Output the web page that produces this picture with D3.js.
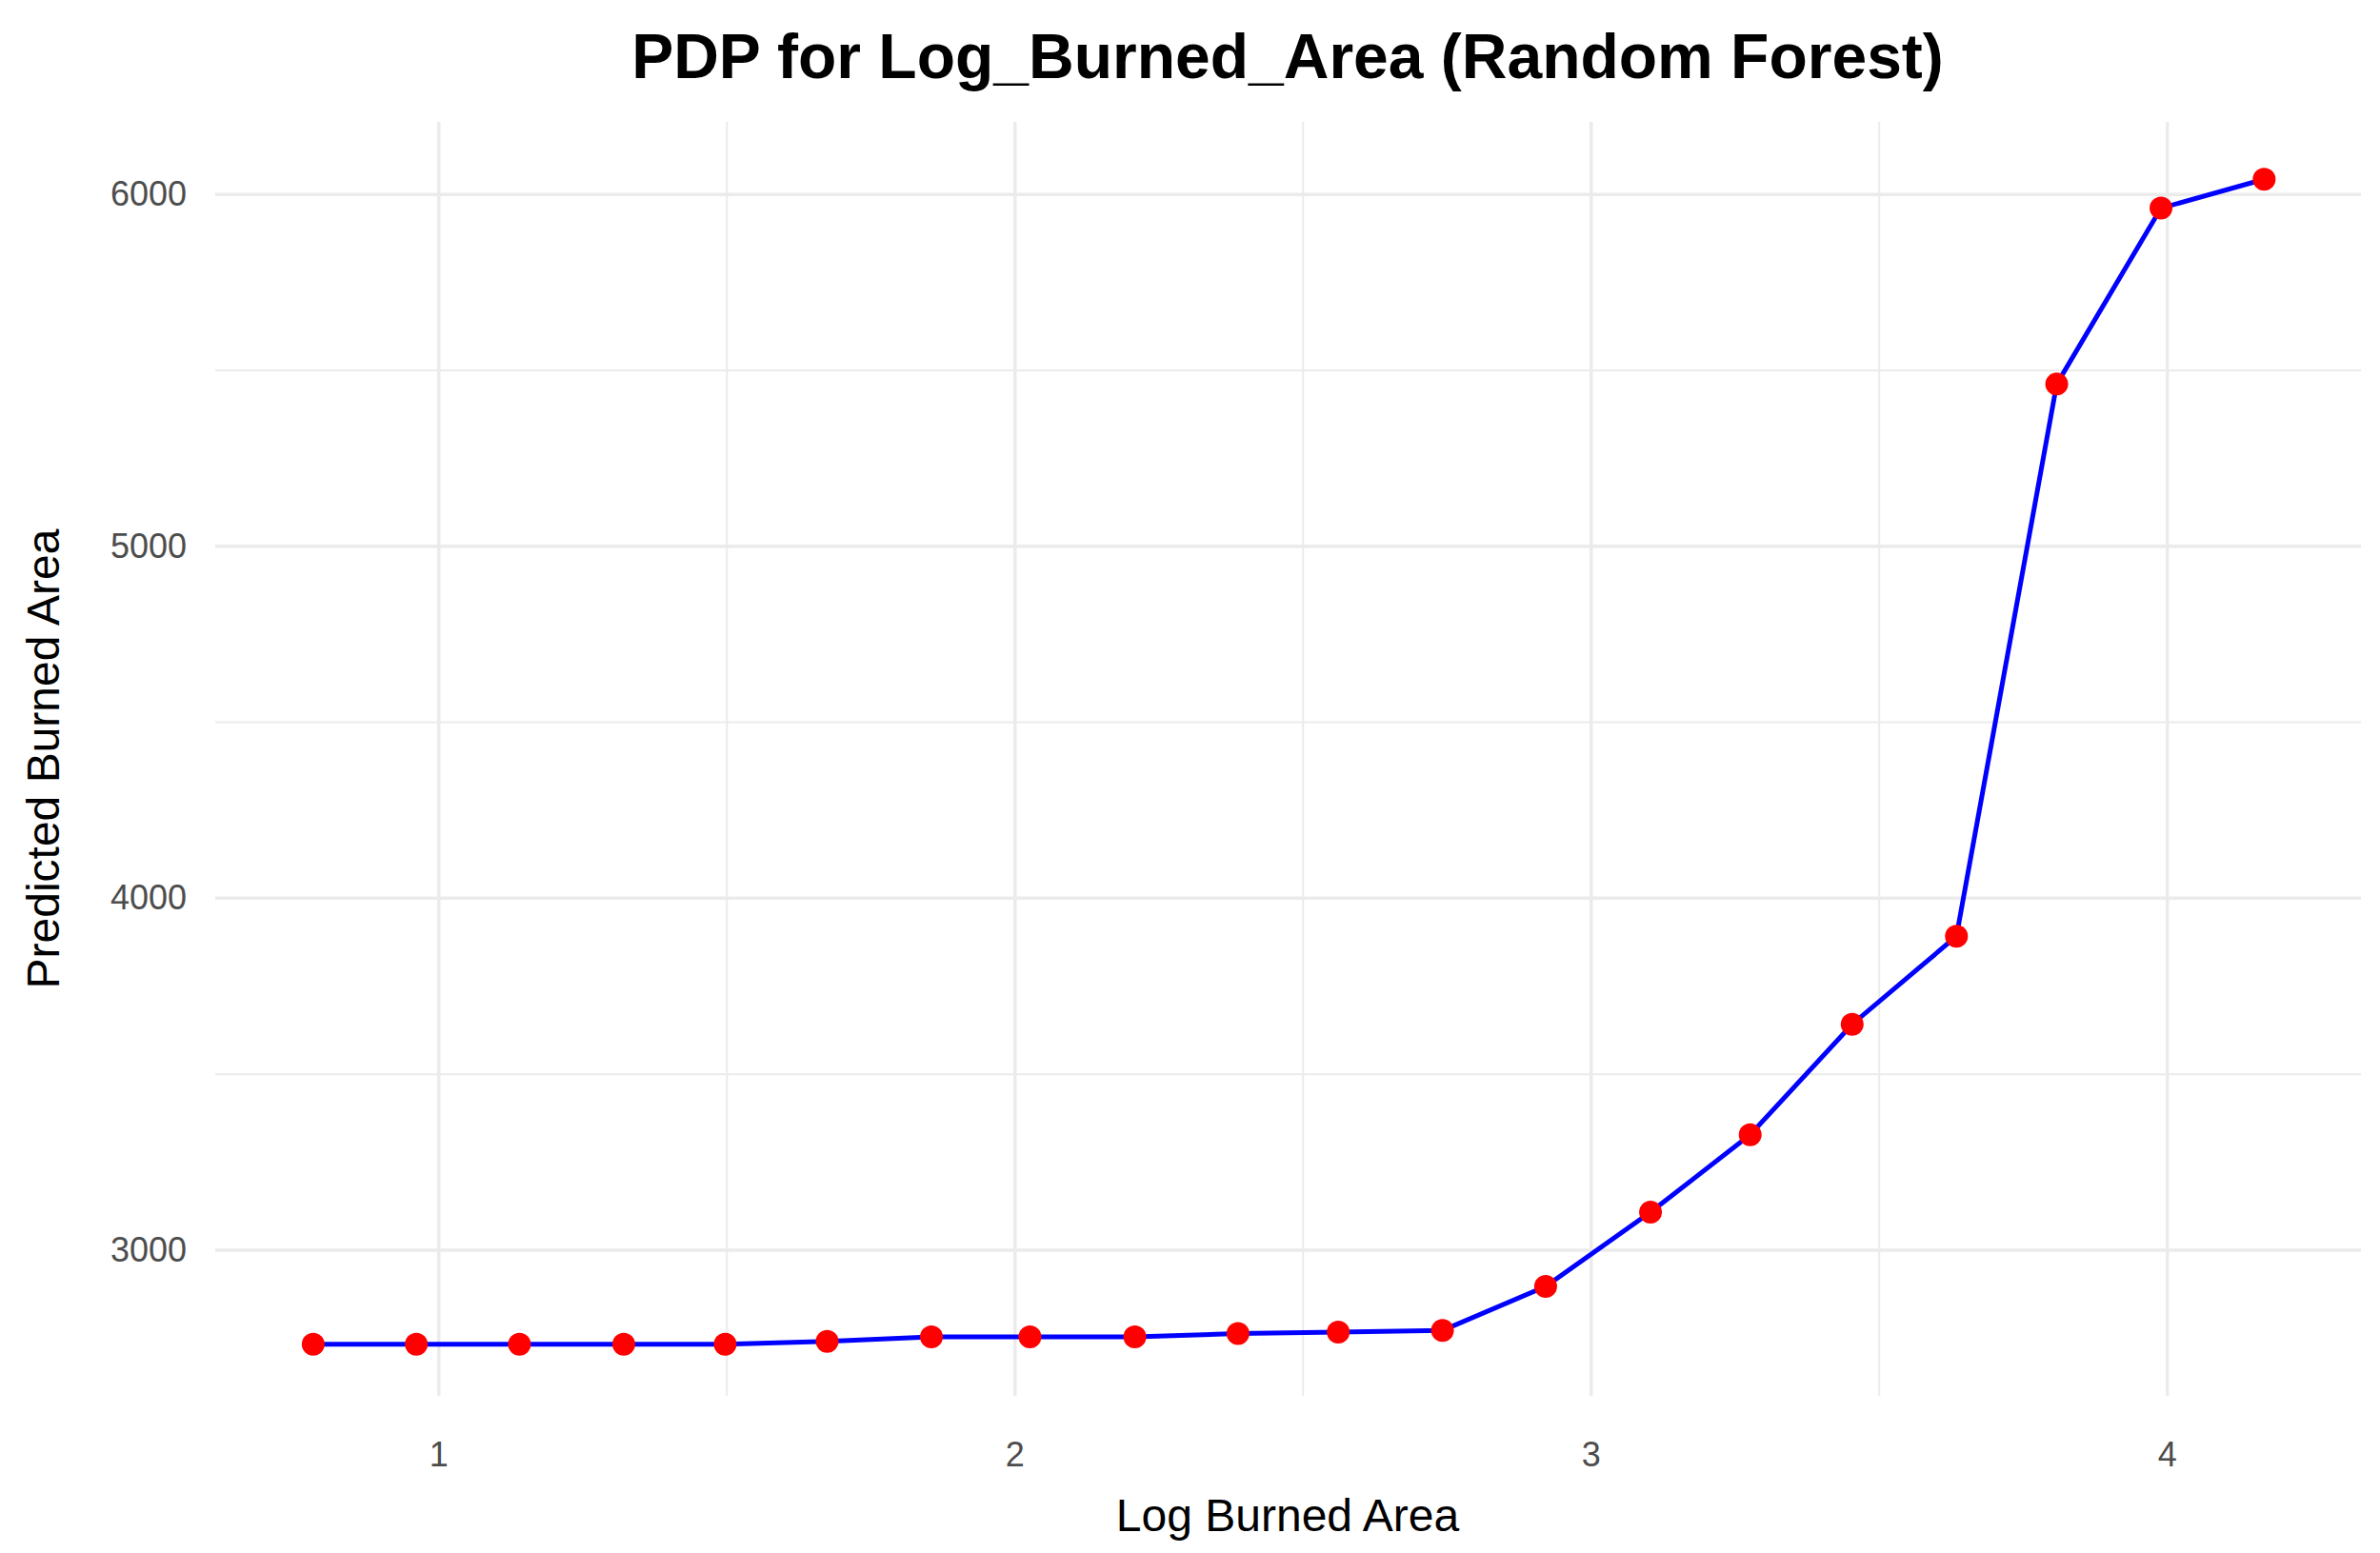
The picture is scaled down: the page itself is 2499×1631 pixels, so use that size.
<!DOCTYPE html>
<html lang="en">
  <head>
    <meta charset="UTF-8" />
    <script src="https://cdn.jsdelivr.net/npm/d3@7"></script>
    <style>
      body { margin: 0; background: #fff; }
      text { font-family: Arial, "Liberation Sans", sans-serif; }
    </style>
  </head>
  <body>
    <svg id="chart" width="2499" height="1631"></svg>
    <script>
      const xVals = [0.782, 0.961, 1.140, 1.321, 1.497, 1.674, 1.855, 2.026, 2.208, 2.387,
                     2.561, 2.742, 2.921, 3.103, 3.276, 3.453, 3.634, 3.808, 3.989, 4.168];
      const yVals = [2733, 2733, 2733, 2733, 2733, 2741, 2754, 2754, 2754, 2763,
                     2767, 2772, 2897, 3108, 3328, 3642, 3892, 5461, 5961, 6043];
      const xTicks = [1, 2, 3, 4];
      const xMinor = [1.5, 2.5, 3.5];
      const yTicks = [3000, 4000, 5000, 6000];
      const yMinor = [3500, 4500, 5500];

      const data = xVals.map((x, i) => ({ x, y: yVals[i] }));
      const svg = d3.select("#chart");
      const pLeft = 226, pRight = 2479, pTop = 128, pBottom = 1466;

      const x = d3.scaleLinear().domain([0.612, 4.336]).range([pLeft, pRight]);
      const y = d3.scaleLinear().domain([2586, 6206]).range([pBottom, pTop]);

      // grid
      svg.selectAll(".xminor").data(xMinor).enter().append("line")
        .attr("x1", d => x(d)).attr("x2", d => x(d)).attr("y1", pTop).attr("y2", pBottom)
        .attr("stroke", "#ebebeb").attr("stroke-width", 2);
      svg.selectAll(".yminor").data(yMinor).enter().append("line")
        .attr("y1", d => y(d)).attr("y2", d => y(d)).attr("x1", pLeft).attr("x2", pRight)
        .attr("stroke", "#ebebeb").attr("stroke-width", 2);
      svg.selectAll(".xmajor").data(xTicks).enter().append("line")
        .attr("x1", d => x(d)).attr("x2", d => x(d)).attr("y1", pTop).attr("y2", pBottom)
        .attr("stroke", "#ebebeb").attr("stroke-width", 3.5);
      svg.selectAll(".ymajor").data(yTicks).enter().append("line")
        .attr("y1", d => y(d)).attr("y2", d => y(d)).attr("x1", pLeft).attr("x2", pRight)
        .attr("stroke", "#ebebeb").attr("stroke-width", 3.5);

      // tick labels
      svg.selectAll(".xlab").data(xTicks).enter().append("text")
        .attr("x", d => x(d)).attr("y", 1540).attr("text-anchor", "middle")
        .attr("font-size", 36).attr("fill", "#4d4d4d").text(d => d);
      svg.selectAll(".ylab").data(yTicks).enter().append("text")
        .attr("x", 196).attr("y", d => y(d) + 12).attr("text-anchor", "end")
        .attr("font-size", 36).attr("fill", "#4d4d4d").text(d => d);

      // line + points
      svg.append("path").datum(data)
        .attr("d", d3.line().x(d => x(d.x)).y(d => y(d.y)))
        .attr("fill", "none").attr("stroke", "#0000ff").attr("stroke-width", 5);
      svg.selectAll(".pt").data(data).enter().append("circle")
        .attr("cx", d => x(d.x)).attr("cy", d => y(d.y)).attr("r", 12)
        .attr("fill", "#ff0000");

      // titles
      svg.append("text").attr("x", 1352).attr("y", 82).attr("text-anchor", "middle")
        .attr("font-size", 66).attr("font-weight", "bold").attr("fill", "#000")
        .text("PDP for Log_Burned_Area (Random Forest)");
      svg.append("text").attr("x", 1352).attr("y", 1608).attr("text-anchor", "middle")
        .attr("font-size", 48).attr("fill", "#000").text("Log Burned Area");
      svg.append("text").attr("transform", "translate(62,797) rotate(-90)")
        .attr("text-anchor", "middle").attr("font-size", 48).attr("fill", "#000")
        .text("Predicted Burned Area");
    </script>
  </body>
</html>
